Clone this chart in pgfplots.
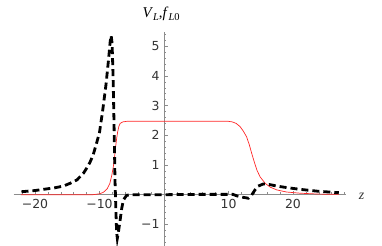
\documentclass[border=0pt]{standalone}
\usepackage{fontspec}
\setmainfont{Liberation Serif}
\setsansfont{DejaVu Sans}
\usepackage{pgfplots}
\pgfplotsset{compat=1.18}
\definecolor{mred}{rgb}{1,0.15,0.15}
\begin{document}
\begin{tikzpicture}
\begin{axis}[
  x=6.45bp, y=29.7bp,
  xmin=-23.3, xmax=28.2, ymin=-1.73, ymax=5.49,
  enlargelimits=false,
  axis lines=middle,
  axis line style={-, black!45, line width=0.6bp},
  clip=false,
  xtick={-20,-10,0,10,20},
  xticklabels={−20,−10,,10,20},
  ytick={-1,0,1,2,3,4,5},
  yticklabels={−1,,1,2,3,4,5},
  minor xtick={-22,-20,...,28},
  minor ytick={-1.6,-1.4,...,5.41},
  tick align=inside,
  major tick length=4bp,
  minor tick length=2.2bp,
  tick style={black!45, line width=0.5bp},
  every tick label/.append style={font=\fontsize{12.5}{13}\sffamily\selectfont, text=black!80},
  xticklabel style={yshift=-1bp},
  yticklabel style={xshift=-1bp},
]
\addplot[mred, line width=0.7bp] coordinates {
(-22.2,0) (-11,0.0) (-10,0.03) (-9.4,0.08) (-8.8,0.2) (-8.4,0.38) (-8.1,0.65)
(-7.86,0.94) (-7.65,1.3) (-7.5,1.62) (-7.35,1.88) (-7.2,2.1) (-7.0,2.3) (-6.8,2.4)
(-6.4,2.45) (-5.8,2.47) (10,2.47) (10.6,2.45) (11.2,2.4) (11.8,2.29) (12.3,2.14)
(12.8,1.95) (13.2,1.7) (13.6,1.39) (14.0,1.1) (14.4,0.83) (14.9,0.6) (15.7,0.38)
(16.5,0.25) (17.5,0.16) (19,0.09) (21.1,0.05) (24,0.02) (27.1,0.01)
};
\addplot[black, line width=2.8bp, dash pattern=on 7bp off 4bp] coordinates {
(-22.1,0.10) (-20,0.14) (-18.7,0.18) (-17,0.23) (-15.6,0.29) (-14.6,0.38)
(-13.5,0.50) (-12.5,0.72) (-12,0.89) (-11.5,1.08) (-11,1.33) (-10.5,1.7)
(-10,2.1) (-9.5,2.85) (-9.0,3.7) (-8.6,4.55) (-8.35,5.15) (-8.2,5.36)
(-8.05,5.1) (-7.9,4.0) (-7.75,2.4) (-7.6,0.5) (-7.45,-0.6) (-7.35,-1.25)
(-7.24,-1.47) (-7.1,-1.3) (-6.8,-0.85) (-6.55,-0.45) (-6.3,-0.18) (-5.8,-0.02)
(-5,0.0) (0,0.0) (5,0.01) (10.7,0.01) (11.3,-0.04) (12.3,-0.09) (13.1,-0.12)
(13.6,-0.01) (14.1,0.16) (14.6,0.29) (15.4,0.36) (16.4,0.34) (17.5,0.29)
(19,0.24) (21.1,0.18) (23.7,0.12) (26.2,0.08) (27.1,0.07)
};
\node[font=\fontsize{15}{15}\selectfont, anchor=base] at (axis cs:-0.45,5.95)
  {\textit{V}\raisebox{-0.35ex}{\fontsize{10.5}{10}\selectfont\textit{L}},\textit{f}\raisebox{-0.35ex}{\fontsize{10.5}{10}\selectfont\textit{L}0}};
\node[font=\fontsize{14}{14}\selectfont, text=black!80] at (axis cs:30.65,-0.07) {\textit{z}};
\path (axis cs:-25.43,-1.727) coordinate (bl) (axis cs:33.8,6.556) coordinate (tr);
\end{axis}
\pgfresetboundingbox
\path[use as bounding box] (bl) rectangle (tr);
\end{tikzpicture}
\end{document}
